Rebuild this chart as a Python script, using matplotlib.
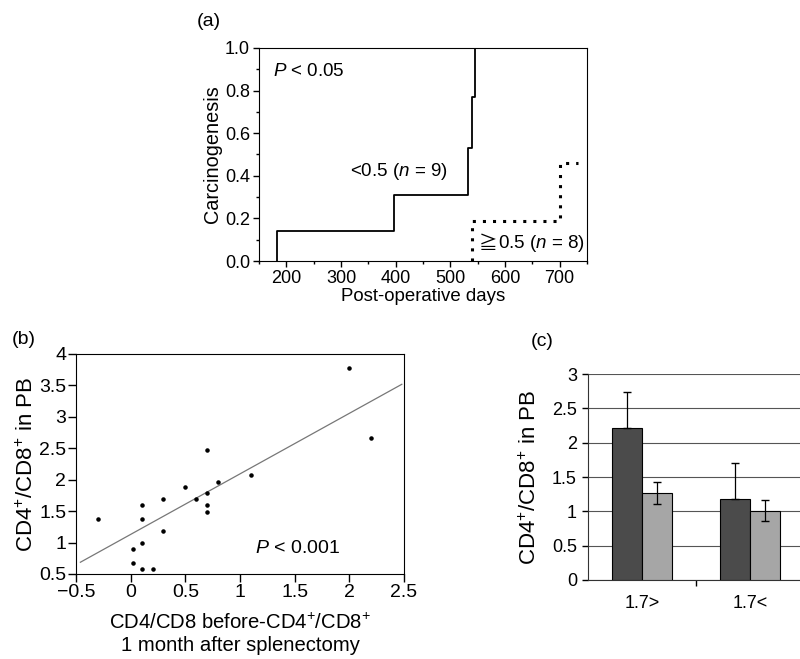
import matplotlib
matplotlib.use("Agg")
import matplotlib.pyplot as plt
import numpy as np
from matplotlib.ticker import MultipleLocator

plt.rcParams['font.family'] = ['Liberation Sans', 'DejaVu Sans']
plt.rcParams['mathtext.fontset'] = 'custom'
plt.rcParams['mathtext.rm'] = 'Liberation Sans'
plt.rcParams['mathtext.it'] = 'Liberation Sans:italic'

# ---- Panel (a) data: step curves ----
low_days = [183, 183, 397, 533, 540, 545]
low_prob = [0.0, 0.14, 0.31, 0.53, 0.77, 1.0]
high_days = [539, 539, 700, 733]
high_prob = [0.0, 0.19, 0.46, 0.46]

# ---- Panel (b) data: scatter ----
b_x = [-0.3, 0.02, 0.02, 0.1, 0.1, 0.1, 0.1, 0.2, 0.3, 0.3, 0.5, 0.6,
       0.7, 0.7, 0.7, 0.7, 0.8, 1.1, 2.0, 2.2]
b_y = [1.38, 0.89, 0.68, 1.59, 1.37, 0.99, 0.58, 0.58, 1.69, 1.18, 1.88, 1.69,
       2.48, 1.79, 1.59, 1.48, 1.97, 2.07, 3.77, 2.67]
fit_x = [-0.46, 2.48]
fit_slope = 0.963
fit_intercept = 1.13

# ---- Panel (c) data: bars ----
c_categories = ['1.7>', '1.7<']
c_dark = [2.21, 1.18]
c_dark_err = [0.53, 0.52]
c_light = [1.27, 1.01]
c_light_err = [0.16, 0.15]

W, H = 800, 659
fig = plt.figure(figsize=(8, 6.59), dpi=100)

def pos(l, r, t, b):
    return [l / W, 1 - b / H, (r - l) / W, (b - t) / H]

# ---------- (a) ----------
a_tick = 13
ax = fig.add_axes(pos(259, 587, 48, 261))
ax.step(low_days, low_prob, where='post', color='black', lw=1.3)
ax.step(high_days, high_prob, where='post', color='black', lw=2.2,
        linestyle=(0, (1.0, 2.3)))
ax.set_xlim(150, 750)
ax.set_ylim(0, 1.0)
ax.xaxis.set_minor_locator(MultipleLocator(50))
ax.yaxis.set_major_locator(MultipleLocator(0.2))
ax.yaxis.set_minor_locator(MultipleLocator(0.1))
ax.yaxis.set_major_formatter(matplotlib.ticker.FormatStrFormatter('%.1f'))
ax.set_xticks(range(200, 701, 100))
ax.tick_params(axis='both', which='major', direction='out', length=4.5, width=1,
               labelsize=a_tick, pad=2)
ax.tick_params(axis='both', which='minor', direction='out', length=2.5, width=1)
ax.set_xlabel('Post-operative days', fontsize=13.4, labelpad=1)
ax.set_ylabel('Carcinogenesis', fontsize=14.3, labelpad=2)
ax.text(175, 0.89, '$P$ < 0.05', fontsize=13.5, va='center', ha='left')
ax.text(317, 0.42, '<0.5 ($n$ = 9)', fontsize=13.5, va='center', ha='left')
t_ge = ax.text(552, 0.08, '≧', fontsize=13.5, va='center', ha='left',
               family='Noto Sans CJK JP')
ax.annotate('0.5 ($n$ = 8)', xy=(1, 0.5), xycoords=t_ge, fontsize=13.5,
            va='center', ha='left')
fig.text(197 / W, 1 - 22 / H, '(a)', fontsize=14, va='center', ha='left')

# ---------- (b) ----------
b_fs = 14
bx = fig.add_axes(pos(76, 404, 354, 574))
bx.scatter(b_x, b_y, s=5, color='black', zorder=3)
fx = np.array(fit_x)
bx.plot(fx, fit_intercept + fit_slope * fx, color='#777777', lw=0.9)
bx.set_xlim(-0.5, 2.5)
bx.set_ylim(0.5, 4)
bx.xaxis.set_major_locator(MultipleLocator(0.5))
bx.yaxis.set_major_locator(MultipleLocator(0.5))
bx.xaxis.set_major_formatter(matplotlib.ticker.FuncFormatter(
    lambda v, p: ('%g' % v).replace('-', '\u2212')))
bx.yaxis.set_major_formatter(matplotlib.ticker.FuncFormatter(lambda v, p: '%g' % v))
bx.tick_params(axis='both', which='major', direction='out', length=6, width=1,
               labelsize=b_fs, pad=1)
bx.set_ylabel('CD4$^{+}$/CD8$^{+}$ in PB', fontsize=16, labelpad=1)
bx.set_xlabel('CD4/CD8 before-CD4$^{+}$/CD8$^{+}$\n1 month after splenectomy',
              fontsize=14.6, labelpad=9, linespacing=1.2)
bx.text(1.14, 0.91, '$P$ < 0.001', fontsize=b_fs, va='center', ha='left')
fig.text(12 / W, 1 - 340 / H, '(b)', fontsize=14, va='center', ha='left')

# ---------- (c) ----------
c_fs = 13
cx = fig.add_axes(pos(588, 804, 374, 580))
xc = np.arange(len(c_categories))
bw = 0.28
cx.bar(xc - bw / 2, c_dark, width=bw, color='#4b4b4b', edgecolor='black',
       lw=0.8, zorder=3)
cx.bar(xc + bw / 2, c_light, width=bw, color='#a6a6a6', edgecolor='black',
       lw=0.8, zorder=3)
cx.errorbar(xc - bw / 2, c_dark, yerr=[np.zeros(len(c_dark)), c_dark_err],
            fmt='none', ecolor='black', elinewidth=0.9, capsize=3, zorder=4)
cx.errorbar(xc + bw / 2, c_light, yerr=c_light_err, fmt='none', ecolor='black',
            elinewidth=0.9, capsize=3, zorder=4)
cx.set_xlim(-0.5, 1.5)
cx.set_ylim(0, 3)
cx.yaxis.set_major_locator(MultipleLocator(0.5))
cx.yaxis.set_major_formatter(matplotlib.ticker.FuncFormatter(lambda v, p: '%g' % v))
cx.yaxis.grid(True, color='#555555', lw=0.8, zorder=0)
cx.set_axisbelow(True)
cx.set_xticks(xc)
cx.set_xticklabels(c_categories)
cx.set_xticks([0.5], minor=True)
cx.tick_params(axis='x', which='major', length=0, labelsize=c_fs, pad=11)
cx.tick_params(axis='x', which='minor', direction='out', length=4, width=1)
cx.tick_params(axis='y', direction='out', length=4, width=1, labelsize=c_fs, pad=4)
for k in ['top', 'right']:
    cx.spines[k].set_visible(False)
cx.spines['left'].set_color('#333333')
cx.spines['bottom'].set_color('#333333')
cx.set_ylabel('CD4$^{+}$/CD8$^{+}$ in PB', fontsize=16, labelpad=8)
fig.text(531 / W, 1 - 342 / H, '(c)', fontsize=14, va='center', ha='left')

fig.savefig('out.png', dpi=100)
